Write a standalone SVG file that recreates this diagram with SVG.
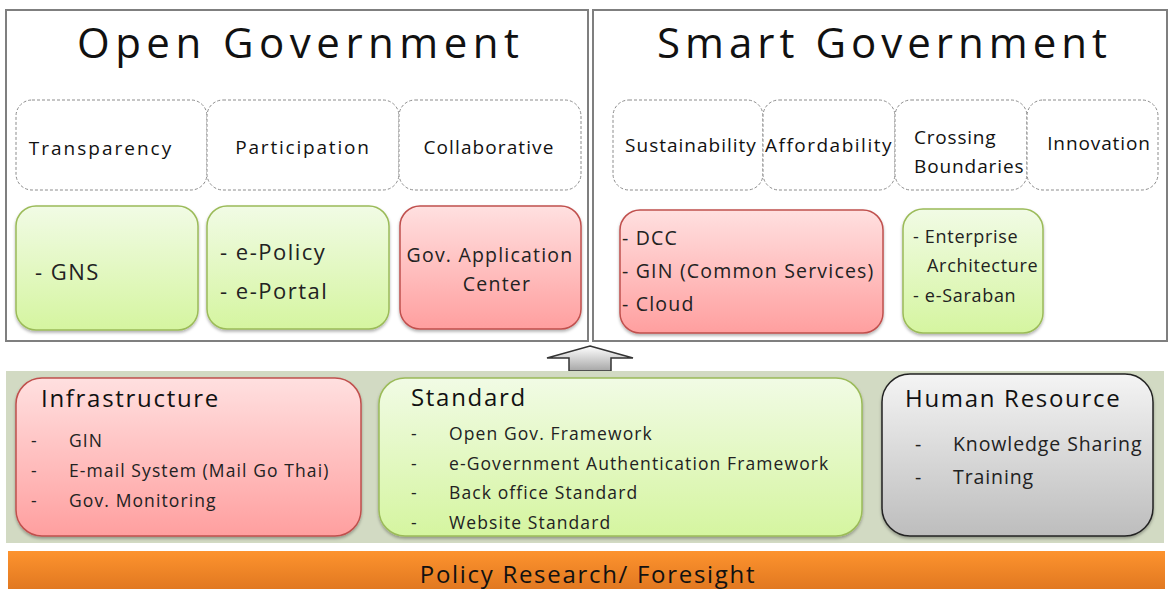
<svg xmlns="http://www.w3.org/2000/svg" width="1168" height="589" viewBox="0 0 1168 589">
<defs>
<linearGradient id="gGreen" x1="0" y1="0" x2="0" y2="1"><stop offset="0" stop-color="#f1fbe5"/><stop offset="1" stop-color="#d5f5a0"/></linearGradient>
<linearGradient id="gRed" x1="0" y1="0" x2="0" y2="1"><stop offset="0" stop-color="#ffe0e0"/><stop offset="1" stop-color="#ff9f9f"/></linearGradient>
<linearGradient id="gGray" x1="0" y1="0" x2="0" y2="1"><stop offset="0" stop-color="#f4f4f4"/><stop offset="1" stop-color="#bdbdbd"/></linearGradient>
<linearGradient id="gArrow" x1="0" y1="0" x2="0" y2="1"><stop offset="0" stop-color="#ffffff"/><stop offset="1" stop-color="#a6a6a6"/></linearGradient>
<linearGradient id="gOrange" x1="0" y1="0" x2="0" y2="1"><stop offset="0" stop-color="#fd932e"/><stop offset="1" stop-color="#e07720"/></linearGradient>
<filter id="sh" x="-10%" y="-10%" width="120%" height="130%"><feDropShadow dx="0" dy="2" stdDeviation="1.5" flood-color="#000" flood-opacity="0.3"/></filter>
<style>
text{font-family:"Open Sans","DejaVu Sans",sans-serif;fill:#111}
.panel{fill:#fff;stroke:#7f7f7f;stroke-width:2}
.dash{fill:#fff;stroke:#8c8c8c;stroke-width:1;stroke-dasharray:3 2}
.green{fill:url(#gGreen);stroke:#9bbb59;stroke-width:1.5;filter:url(#sh)}
.red{fill:url(#gRed);stroke:#c0504d;stroke-width:1.5;filter:url(#sh)}
.gray{fill:url(#gGray);stroke:#222;stroke-width:1.5;filter:url(#sh)}
.title{font-size:42px}
.lbl{font-size:19px;letter-spacing:1.3px}
.box{font-size:19.5px;letter-spacing:1.2px;fill:#222}
.big{font-size:22px;letter-spacing:1.5px;fill:#222}
.sm{font-size:18px;letter-spacing:0.7px;fill:#222}
.item{font-size:17.5px;letter-spacing:1.1px;fill:#222}
.hr{font-size:19.5px;letter-spacing:0.9px;fill:#222}
.head{font-size:24px;letter-spacing:1.7px}
</style>
</defs>
<rect width="1168" height="589" fill="#fff"/>

<g id="open-government">
<rect class="panel" x="6" y="10" width="582" height="331"/>
<text class="title" x="298" y="58" text-anchor="middle" textLength="442" lengthAdjust="spacing">Open Government</text>
</g>
<g id="smart-government">
<rect class="panel" x="593" y="10" width="574" height="331"/>
<text class="title" x="882" y="58" text-anchor="middle" textLength="450" lengthAdjust="spacing">Smart Government</text>
</g>

<g id="transparency"><rect class="dash" x="16" y="100" width="191" height="90" rx="16"/><text class="lbl" x="101" y="155" text-anchor="middle" style="letter-spacing:2px">Transparency</text></g>
<g id="participation"><rect class="dash" x="207" y="100" width="192" height="90" rx="16"/><text class="lbl" x="303" y="154" text-anchor="middle" style="letter-spacing:1.8px">Participation</text></g>
<g id="collaborative"><rect class="dash" x="399" y="100" width="182" height="90" rx="16"/><text class="lbl" x="489" y="154" text-anchor="middle" style="letter-spacing:1.1px">Collaborative</text></g>

<g id="sustainability"><rect class="dash" x="613" y="100" width="150" height="90" rx="16"/><text class="lbl" x="691" y="152" text-anchor="middle" style="letter-spacing:1px">Sustainability</text></g>
<g id="affordability"><rect class="dash" x="763" y="100" width="132" height="90" rx="16"/><text class="lbl" x="829" y="152" text-anchor="middle" style="letter-spacing:1.5px">Affordability</text></g>
<g id="crossing-boundaries"><rect class="dash" x="895" y="100" width="132" height="90" rx="16"/><text class="lbl" x="914" y="144" style="letter-spacing:0.8px">Crossing</text><text class="lbl" x="914" y="173" style="letter-spacing:0.9px">Boundaries</text></g>
<g id="innovation"><rect class="dash" x="1027" y="100" width="131" height="90" rx="16"/><text class="lbl" x="1099" y="150" text-anchor="middle" style="letter-spacing:0.9px">Innovation</text></g>

<g id="gns"><rect class="green" x="16" y="206" width="182" height="124" rx="20"/><text class="big" x="35" y="280">- GNS</text></g>
<g id="e-policy"><rect class="green" x="207" y="206" width="182" height="123" rx="20"/><text class="big" x="220" y="260">- e-Policy</text><text class="big" x="220" y="299">- e-Portal</text></g>
<g id="gov-app-center"><rect class="red" x="400" y="206" width="181" height="123" rx="20"/><text class="box" x="490" y="262" text-anchor="middle">Gov. Application</text><text class="box" x="497" y="291" text-anchor="middle">Center</text></g>

<g id="dcc"><rect class="red" x="620" y="210" width="263" height="123" rx="20"/><text class="box" x="622" y="245">- DCC</text><text class="box" x="622" y="278">- GIN (Common Services)</text><text class="box" x="622" y="311">- Cloud</text></g>
<g id="enterprise"><rect class="green" x="903" y="209" width="140" height="124" rx="20"/><text class="sm" x="913" y="243">- Enterprise</text><text class="sm" x="927" y="272">Architecture</text><text class="sm" x="913" y="302">- e-Saraban</text></g>

<g id="connectors">
<path d="M590 346 L633 358 L611 358 L611 371 L569 371 L569 358 L547 358 Z" fill="url(#gArrow)" stroke="#333" stroke-width="1.5" stroke-linejoin="miter"/>
</g>

<g id="foundation-band"><rect x="6" y="371" width="1158" height="172" fill="#d2dac3"/></g>

<g id="infrastructure"><rect class="red" x="16" y="378" width="345" height="158" rx="26"/>
<text class="head" x="41" y="407">Infrastructure</text>
<text class="item" x="31" y="447">-</text><text class="item" x="69" y="447">GIN</text>
<text class="item" x="31" y="477">-</text><text class="item" x="69" y="477">E-mail System (Mail Go Thai)</text>
<text class="item" x="31" y="507">-</text><text class="item" x="69" y="507">Gov. Monitoring</text>
</g>
<g id="standard"><rect class="green" x="379" y="378" width="483" height="158" rx="26"/>
<text class="head" x="411" y="406">Standard</text>
<text class="item" x="411" y="440">-</text><text class="item" x="449" y="440">Open Gov. Framework</text>
<text class="item" x="411" y="470">-</text><text class="item" x="449" y="470">e-Government Authentication Framework</text>
<text class="item" x="411" y="499">-</text><text class="item" x="449" y="499">Back office Standard</text>
<text class="item" x="411" y="529">-</text><text class="item" x="449" y="529">Website Standard</text>
</g>
<g id="human-resource"><rect class="gray" x="882" y="374" width="271" height="162" rx="28"/>
<text class="head" x="905" y="407">Human Resource</text>
<text class="hr" x="915" y="451">-</text><text class="hr" x="953" y="451">Knowledge Sharing</text>
<text class="hr" x="915" y="484">-</text><text class="hr" x="953" y="484">Training</text>
</g>

<g id="policy-research"><rect x="8" y="551" width="1157" height="40" fill="url(#gOrange)"/>
<text x="588" y="583" text-anchor="middle" style="font-size:24px;letter-spacing:1.7px">Policy Research/ Foresight</text></g>
</svg>
